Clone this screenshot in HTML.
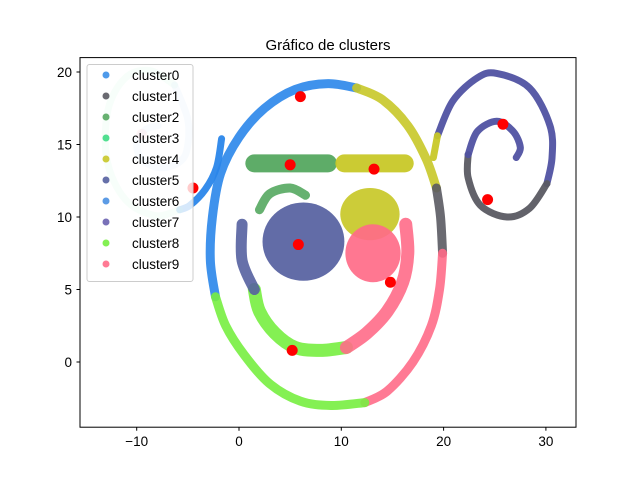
<!DOCTYPE html>
<html><head><meta charset="utf-8"><style>
body{margin:0;background:#fff;}
svg text{font-family:"Liberation Sans","DejaVu Sans",sans-serif;}
</style></head><body>
<svg id="chart" width="640" height="480" viewBox="0 0 640 480" xmlns="http://www.w3.org/2000/svg">
<rect width="640" height="480" fill="#fff"/>
<text x="328" y="50" text-anchor="middle" font-size="15">Gráfico de clusters</text>
<g id="marks"></g>
<rect x="80" y="57.6" width="496" height="369.6" fill="none" stroke="#000" stroke-width="1"/>
<g id="axes"></g>
<g id="legend"></g>
</svg>
<script>
const xTicks=[-10,0,10,20,30];
const yTicks=[0,5,10,15,20];
const clusterNames=["cluster0","cluster1","cluster2","cluster3","cluster4","cluster5","cluster6","cluster7","cluster8","cluster9"];
const clusterColors=["#3b8fe8","#5a5a62","#55a860","#3ddc84","#c8c828","#5560a0","#4a90e2","#6a62b0","#77ee40","#ff6b88"];
// band series: cluster index, points [x,y]
const bandCluster=[0,4,1,9,8,8,9,5,2,2,4,7,1,7,4,6,3,6];
const bandPoints=[
 [[-2.3,4.5],[-2.8,7],[-2.6,10],[-1.8,13],[0,15.5],[2.5,17.5],[5.5,18.8],[8.7,19.2],[11.5,18.9]],
 [[11.5,18.9],[14,18.1],[16.5,16.3],[18.3,14],[19.3,12]],
 [[19.3,12],[19.7,10],[19.9,7.5]],
 [[19.9,7.5],[19.6,5],[18.8,2.5],[17,0],[14.5,-2],[12.3,-2.8]],
 [[12.3,-2.8],[9,-3],[6,-2.7],[3,-1.5],[0.5,0.5],[-1.3,2.5],[-2.3,4.5]],
 [[1.5,5],[2,3.5],[3.5,2],[5.5,1],[8,0.8],[10.5,1]],
 [[10.5,1],[12.5,2],[14.5,3.5],[16,5.5],[16.5,7.5],[16.3,9.5]],
 [[0.3,9.5],[0.3,7],[1.5,5]],
 [[2,10.5],[3,11.6],[5,12],[6.5,11.5]],
 [[1.5,13.7],[8.7,13.7]],
 [[10.3,13.7],[16.2,13.7]],
 [[19.4,15.6],[20.9,18],[23.3,19.6],[25.2,19.9],[28.4,18.9],[30.4,16.3],[30.6,14.1],[30.1,12.3]],
 [[30.1,12.3],[28.4,10.6],[26.2,10],[23.6,10.8],[22.4,12.7],[22.4,14.3]],
 [[22.4,14.3],[23.3,15.9],[25.2,16.6],[26.8,15.9],[27.5,14.8],[27.1,14.1]],
 [[19,14.1],[19.4,15.6]],
 [[-1.7,15.4],[-2.2,13.4],[-3.3,11.9],[-4.8,10.8],[-5.8,10.5]],
 [[-5.8,10.5],[-8.2,10.1],[-11.1,11.2],[-12.9,13.9],[-12.8,17.4],[-11.1,19.6],[-8.7,20.1],[-6.3,19.1]],
 [[-6.3,19.1],[-5.0,16.7],[-5.1,14.6],[-6.0,13.7],[-7.7,13.4],[-9.4,13.9],[-10.0,15.0],[-9.2,16.0],[-7.9,16.3]]
];
const bandWidth=[9,9,9,9,9,13,13,11,9,18,18,7,7,7,7,7,7,7];
const bandAlpha=[0.9,0.9,0.9,0.9,0.9,0.9,0.9,0.9,0.9,0.95,0.95,0.95,0.95,0.95,0.95,0.95,0.2,0.2];
// blobs: cluster, center x, center y, radius x, radius y (data units)
const blobCluster=[5,4,9];
const blobCx=[6.3,12.8,13.1];
const blobCy=[8.3,10.2,7.5];
const blobRx=[4.0,2.9,2.7];
const blobRy=[2.7,1.8,2.0];
// centroids
const centerX=[6,5,13.2,-4.5,5.8,14.8,5.2,25.8,24.3,-9.5];
const centerY=[18.3,13.6,13.3,12,8.1,5.5,0.8,16.4,11.2,15.7];
const centerAlpha=[1,1,1,1,1,1,1,1,1,0.2];

const X=v=>239+10.23*v, Y=v=>362-14.5*v;
const NS="http://www.w3.org/2000/svg";
const marks=document.getElementById('marks');
function smoothPath(pts){
 const P=pts.map(q=>[X(q[0]),Y(q[1])]);
 if(P.length<3)return 'M'+P.map(p=>p.join(',')).join(' L');
 let d='M'+P[0][0]+','+P[0][1];
 for(let i=0;i<P.length-1;i++){
  const p0=P[Math.max(i-1,0)],p1=P[i],p2=P[i+1],p3=P[Math.min(i+2,P.length-1)];
  const c1=[p1[0]+(p2[0]-p0[0])/6,p1[1]+(p2[1]-p0[1])/6];
  const c2=[p2[0]-(p3[0]-p1[0])/6,p2[1]-(p3[1]-p1[1])/6];
  d+=' C'+c1.join(',')+' '+c2.join(',')+' '+p2.join(',');
 }
 return d;
}
blobCx.forEach((cx,i)=>{
 const e=document.createElementNS(NS,'ellipse');
 
 
 e.setAttribute('cx',X(cx));e.setAttribute('cy',Y(blobCy[i]));
 e.setAttribute('rx',blobRx[i]*10.23);e.setAttribute('ry',blobRy[i]*14.5);
 e.setAttribute('fill',clusterColors[blobCluster[i]]);e.setAttribute('opacity','0.92');
 marks.appendChild(e);
});
bandPoints.forEach((pts,i)=>{
 const p=document.createElementNS(NS,'path');
 
 
 p.setAttribute('d',smoothPath(pts));
 let c=clusterColors[bandCluster[i]];
 if(i===0||i===15)c="#2a86ea";
 if(i===11||i===13)c="#5052a2";
 p.setAttribute('fill','none');p.setAttribute('stroke',c);
 p.setAttribute('stroke-width',bandWidth[i]);p.setAttribute('stroke-linecap','round');p.setAttribute('stroke-linejoin','round');
 p.setAttribute('opacity',bandAlpha[i]);
 marks.appendChild(p);
});
centerX.forEach((cx,i)=>{
 const c=document.createElementNS(NS,'circle');
 
 
 c.setAttribute('cx',X(cx));c.setAttribute('cy',Y(centerY[i]));c.setAttribute('r',5.5);
 c.setAttribute('fill','#ff0000');c.setAttribute('opacity',centerAlpha[i]);
 marks.appendChild(c);
});
const axes=document.getElementById('axes');
xTicks.forEach(t=>{
 const l=document.createElementNS(NS,'line');
 
 
 l.setAttribute('x1',X(t));l.setAttribute('x2',X(t));l.setAttribute('y1',427.2);l.setAttribute('y2',430.7);l.setAttribute('stroke','#000');
 axes.appendChild(l);
 const tx=document.createElementNS(NS,'text');
 
 
 tx.setAttribute('x',X(t));tx.setAttribute('y',446);tx.setAttribute('text-anchor','middle');tx.setAttribute('font-size','13.5');
 tx.textContent=t<0?'\u2212'+(-t):t;
 axes.appendChild(tx);
});
yTicks.forEach(t=>{
 const l=document.createElementNS(NS,'line');
 
 
 l.setAttribute('x1',76.5);l.setAttribute('x2',80);l.setAttribute('y1',Y(t));l.setAttribute('y2',Y(t));l.setAttribute('stroke','#000');
 axes.appendChild(l);
 const tx=document.createElementNS(NS,'text');
 
 
 tx.setAttribute('x',72);tx.setAttribute('y',Y(t)+5);tx.setAttribute('text-anchor','end');tx.setAttribute('font-size','13.5');
 tx.textContent=t;
 axes.appendChild(tx);
});
const lg=document.getElementById('legend');
const box=document.createElementNS(NS,'rect');


box.setAttribute('x',87);box.setAttribute('y',64.5);box.setAttribute('width',106);box.setAttribute('height',217);box.setAttribute('rx',2.5);
box.setAttribute('fill','#fff');box.setAttribute('fill-opacity','0.8');box.setAttribute('stroke','#ccc');
lg.appendChild(box);
clusterNames.forEach((n,i)=>{
 const y=75+21*i;
 const c=document.createElementNS(NS,'circle');
 
 
 c.setAttribute('cx',106);c.setAttribute('cy',y);c.setAttribute('r',3.5);c.setAttribute('fill',clusterColors[i]);c.setAttribute('opacity','0.9');
 lg.appendChild(c);
 const t=document.createElementNS(NS,'text');
 
 
 t.setAttribute('x',132);t.setAttribute('y',y+5);t.setAttribute('font-size','13.5');
 t.textContent=n;
 lg.appendChild(t);
});
</script>
</body></html>
